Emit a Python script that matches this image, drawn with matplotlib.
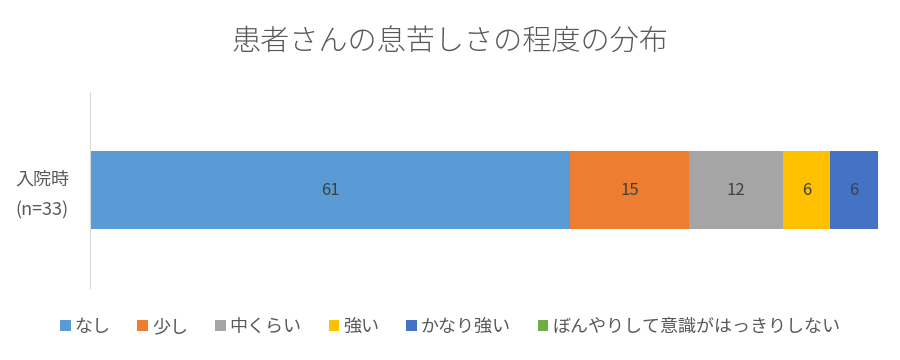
import matplotlib
matplotlib.use("Agg")
import matplotlib.pyplot as plt

plt.rcParams['font.family'] = ['Noto Sans CJK JP', 'DejaVu Sans']

categories = ["入院時\n(n=33)"]
series_names = ["なし", "少し", "中くらい", "強い", "かなり強い", "ぼんやりして意識がはっきりしない"]
values = [61, 15, 12, 6, 6, 0]
colors = ["#5B9BD5", "#ED7D31", "#A5A5A5", "#FFC000", "#4472C4", "#70AD47"]
title = "患者さんの息苦しさの程度の分布"

fig = plt.figure(figsize=(9, 3.6), dpi=100)
ax = fig.add_axes([0.1, 0.2, 0.875, 0.544])

left = 0
handles = []
for name, v, c in zip(series_names, values, colors):
    b = ax.barh([0], [v], left=[left], height=0.4, color=c, label=name)
    handles.append(b)
    if v > 0:
        ax.text(left + v / 2, 0, str(v), ha='center', va='center', fontsize=12, color='#404040')
    left += v

ax.set_xlim(0, 100)
ax.set_ylim(-0.5, 0.5)
ax.set_yticks([0])
ax.set_yticklabels([""])
for i, cat in enumerate(categories):
    ax.text(-0.061, i - 0.025, cat, transform=ax.get_yaxis_transform(), ha='center', va='center',
            multialignment='center', fontsize=13, color='#595959', linespacing=1.95)
ax.tick_params(axis='y', length=0)
ax.set_xticks([])
for s in ['top', 'right', 'bottom']:
    ax.spines[s].set_visible(False)
ax.spines['left'].set_color('#D9D9D9')

fig.text(0.5, 0.883, title, ha='center', va='center', fontsize=21, color='#595959',
         fontweight='light')

fig.legend(handles=handles, labels=series_names, loc='center', bbox_to_anchor=(0.5, 0.092),
           ncol=6, frameon=False, fontsize=13, labelcolor='#595959',
           handlelength=0.6, handleheight=0.6, handletextpad=0.2, columnspacing=1.5)

fig.savefig("out.png", dpi=100)
